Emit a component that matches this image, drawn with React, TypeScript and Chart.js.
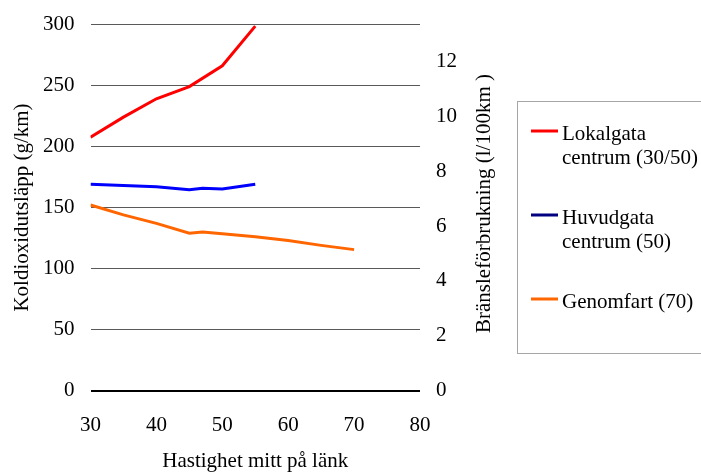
import React, { useEffect, useRef } from 'react';
import { Chart, registerables } from 'chart.js';

Chart.register(...registerables);

const FONT = "'Liberation Serif', 'Times New Roman', Times, serif";

// Data (speed km/h -> CO2 g/km)
const lokalSpeeds = [30, 35, 40, 45, 50, 55];
const lokalCO2 = [207.5, 224, 239, 249, 266, 298.5];
const huvudSpeeds = [30, 35, 40, 45, 47, 50, 55];
const huvudCO2 = [169, 168, 167, 164.5, 165.7, 165.2, 169];
const genomSpeeds = [30, 35, 40, 45, 47, 50, 55, 60, 65, 70];
const genomCO2 = [152, 144, 137, 129, 130, 128.5, 126, 123, 119, 115.5];

const seriesLabels = [
  ['Lokalgata', 'centrum (30/50)'],
  ['Huvudgata', 'centrum (50)'],
  ['Genomfart (70)'],
];
const lineColors = ['#FF0000', '#0000FF', '#FF6600'];
const legendColors = ['#FF0000', '#000080', '#FF6600'];

const xTitle = 'Hastighet mitt på länk';
const leftTitle = 'Koldioxidutsläpp (g/km)';
const rightTitle = 'Bränsleförbrukning (l/100km )';
const rightTickValues = [0, 2, 4, 6, 8, 10, 12];

const toPoints = (xs: number[], ys: number[]) => xs.map((x, i) => ({ x, y: ys[i] }));

const overlayPlugin = {
  id: 'overlay',
  afterDraw(chart: any) {
    const ctx = chart.ctx;
    const r = chart.scales.y1;
    ctx.save();
    ctx.fillStyle = '#000';
    ctx.font = `21px ${FONT}`;
    ctx.textAlign = 'center';
    ctx.textBaseline = 'middle';
    ctx.translate(r.left + 64, (r.top + r.bottom) / 2 - 4);
    ctx.rotate(-Math.PI / 2);
    ctx.fillText(rightTitle, 0, 0);
    ctx.restore();

    ctx.save();
    ctx.strokeStyle = '#A6A6A6';
    ctx.lineWidth = 1;
    ctx.strokeRect(517.5, 101.5, 200, 252);
    const baselines = [140, 224, 308];
    ctx.font = `21px ${FONT}`;
    ctx.textAlign = 'left';
    ctx.textBaseline = 'alphabetic';
    seriesLabels.forEach((lines, i) => {
      const b = baselines[i];
      ctx.strokeStyle = legendColors[i];
      ctx.lineWidth = 3;
      ctx.beginPath();
      ctx.moveTo(531, b - 9);
      ctx.lineTo(558, b - 9);
      ctx.stroke();
      ctx.fillStyle = '#000';
      lines.forEach((t, j) => ctx.fillText(t, 562, b + j * 23.5));
    });
    ctx.restore();
  },
};

export default function App() {
  const ref = useRef<HTMLCanvasElement | null>(null);
  useEffect(() => {
    if (!ref.current) return;
    const chart = new Chart(ref.current, {
      type: 'line',
      data: {
        datasets: [
          { label: seriesLabels[0].join(' '), data: toPoints(lokalSpeeds, lokalCO2), borderColor: lineColors[0] },
          { label: seriesLabels[1].join(' '), data: toPoints(huvudSpeeds, huvudCO2), borderColor: lineColors[1] },
          { label: seriesLabels[2].join(' '), data: toPoints(genomSpeeds, genomCO2), borderColor: lineColors[2] },
        ].map((d) => ({ ...d, borderWidth: 3, pointRadius: 0, tension: 0, fill: false, yAxisID: 'y' })),
      },
      options: {
        responsive: false,
        animation: false,
        layout: { padding: { top: 24.3, left: 0, right: 0, bottom: 0 } },
        plugins: { legend: { display: false }, tooltip: { enabled: false } },
        scales: {
          x: {
            type: 'linear',
            min: 30,
            max: 80,
            ticks: { stepSize: 10, color: '#000', font: { family: FONT, size: 21 }, padding: 22.3 },
            grid: { display: false, drawTicks: false },
            border: { display: false },
            title: { display: true, text: xTitle, color: '#000', font: { family: FONT, size: 21, lineHeight: 1 }, padding: { top: 0, bottom: 0 } },
            afterFit: (s: any) => { s.height = 81.3; },
          },
          y: {
            type: 'linear',
            position: 'left',
            min: 0,
            max: 300,
            ticks: { stepSize: 50, color: '#000', font: { family: FONT, size: 21 }, padding: 16 },
            grid: {
              drawTicks: false,
              color: (c: any) => (c.tick && c.tick.value === 0 ? '#000' : '#595959'),
              lineWidth: (c: any) => (c.tick && c.tick.value === 0 ? 2 : 1),
            },
            border: { display: false },
            title: { display: true, text: leftTitle, color: '#000', font: { family: FONT, size: 21, lineHeight: 1 }, padding: { top: 12, bottom: 0 } },
            afterFit: (s: any) => { s.width = 90.5; s.paddingTop = 0; s.paddingBottom = 0; },
          },
          y1: {
            type: 'linear',
            position: 'right',
            min: 0,
            max: 13.35,
            ticks: { color: '#000', font: { family: FONT, size: 21 }, padding: 16 },
            afterBuildTicks: (s: any) => { s.ticks = rightTickValues.map((v) => ({ value: v })); },
            grid: { drawOnChartArea: false, drawTicks: false },
            border: { display: false },
            afterFit: (s: any) => { s.width = 281; s.paddingTop = 0; s.paddingBottom = 0; },
          },
        },
      },
      plugins: [overlayPlugin],
    });
    return () => chart.destroy();
  }, []);
  return (
    <div style={{ position: 'fixed', left: 0, top: 0, width: 701, height: 472, background: '#fff' }}>
      <canvas ref={ref} width={701} height={472} />
    </div>
  );
}
